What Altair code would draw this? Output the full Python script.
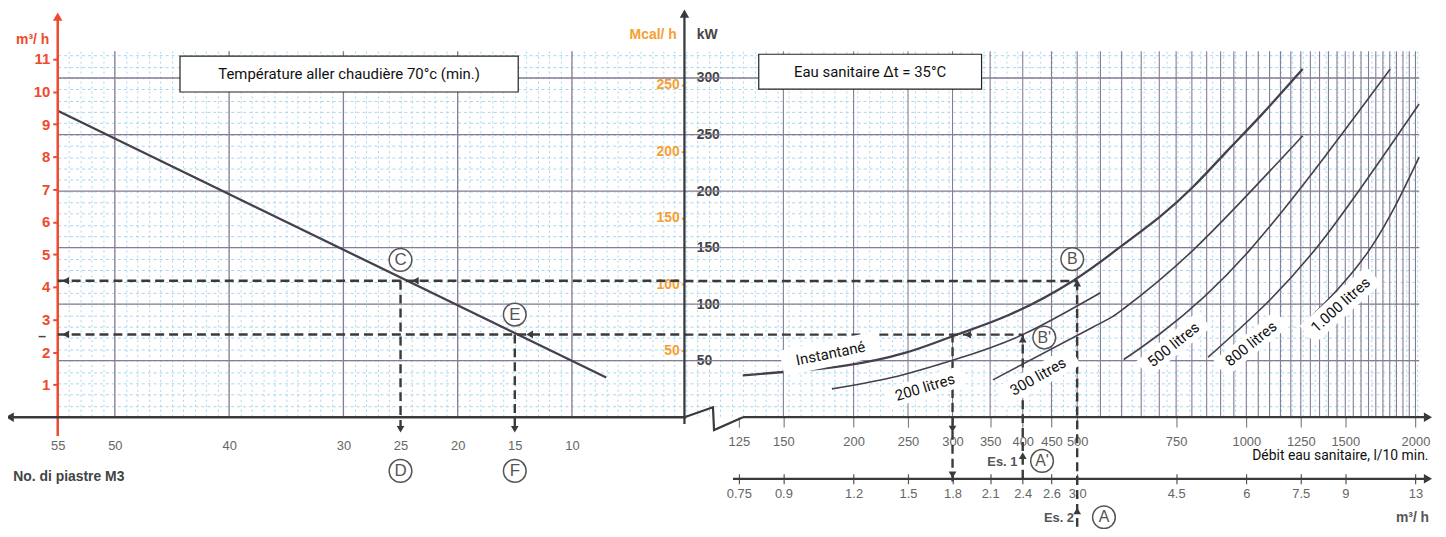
import altair as alt
import pandas as pd

# ---------------- data ----------------
# left panel: plates (No. di piastre M3) vs flow m3/h
piastre_x = [55, 7]
piastre_m3h = [9.41, 1.22]

# right panel: domestic water flow (l/10 min) vs power kW
inst_debit = [127, 150, 191, 250, 303, 376, 500, 597, 704, 805, 921, 1056, 1260]
inst_kw = [37, 40, 44, 56, 73, 88, 121, 151, 177, 203, 235, 265, 308]
l200_debit = [183, 234, 303, 400, 550]
l200_kw = [25, 35, 51, 73, 110]
l300_debit = [354, 535, 605, 805, 1260]
l300_kw = [33, 80, 96, 148, 249]
l500_debit = [605, 703, 1015, 1804]
l500_kw = [51, 74, 148, 308]
l800_debit = [855, 1057, 1384, 2030]
l800_kw = [53, 95, 160, 277]
l1000_debit = [1276, 1656, 2030]
l1000_kw = [84, 148, 230]

plates_ticks = [55, 50, 40, 30, 25, 20, 15, 10]
plates_grid = [50, 40, 30, 20, 10]
m3h_ticks_left = list(range(1, 12))
kw_ticks = [50, 100, 150, 200, 250, 300]
mcal_ticks = [50, 100, 150, 200, 250]
debit_ticks = [125, 150, 200, 250, 300, 350, 400, 450, 500, 750, 1000, 1250, 1500, 2000]
m3h_tick_labels = ["0.75", "0.9", "1.2", "1.5", "1.8", "2.1", "2.4", "2.6", "3.0", "4.5", "6", "7.5", "9", "13"]
debit_grid = list(range(150, 2001, 50))

# guide lines (reading example)
left_dash_x = [55, 55, 25, 15]
left_dash_x2 = [0, 0, 25, 15]
left_dash_y = [4.19, 2.54, 4.19, 2.54]
left_dash_y2 = [4.19, 2.54, -0.3, -0.3]
right_dash_x = [100, 100, 500, 400, 300]
right_dash_x2 = [500, 400, 500, 400, 300]
right_dash_y = [120.5, 73, -97, -54.5, -57]
right_dash_y2 = [120.5, 73, 120.5, 73, 73]

left_arrow_x = [54.3, 54.3, 23.7, 13.7, 25, 15]
left_arrow_y = [4.19, 2.54, 4.19, 2.54, -0.37, -0.37]
left_arrow_s = ["triangle-left"] * 4 + ["triangle-down"] * 2
right_arrow_x = [500, 400, 319, 300, 300, 400, 500]
right_arrow_y = [118.5, 69, 73, -10.5, -51, -34, -83]
right_arrow_s = ["triangle-up", "triangle-up", "triangle-left", "triangle-down", "triangle-down", "triangle-up", "triangle-up"]

left_circle_txt = ["C", "E", "D", "F"]
left_circle_x = [25, 15, 25, 15]
left_circle_y = [4.83, 3.15, -1.65, -1.65]
right_circle_txt = ["B", "B'", "A'", "A"]
right_circle_x = [490, 437, 433, 558]
right_circle_y = [139.8, 70.4, -38.7, -88.5]

curve_label_txt = ["Instantané", "200 litres", "300 litres", "500 litres", "800 litres", "1.000 litres"]
curve_label_x = [182, 268, 426, 742, 1019, 1471]
curve_label_y = [56.3, 26.4, 36, 64.2, 65, 99.4]
curve_label_ang = [348.5, 343, 330.5, 321, 321, 318]
curve_label_w = [100, 80, 86, 80, 80, 90]

# ---------------- scales / styles ----------------
W, H = 1369, 368
L_DOM = [55, -64.14]
R_DOM = [7.667, 2030]
KW_DOM = [0, 323.7]
M3_DOM = [0, 11.24]
MC_DOM = [0, 275.4]

RED = "#ee4a2c"
ORANGE = "#f5a030"
GRID = "#857e93"
BLUE = "#a6d6ef"
DARK = "#3a3a3a"
CURVE = "#463f4c"
AXF = "Liberation Sans"
TXF = "Roboto"


def XL(f, axis=None):
    return alt.X(f, type="quantitative", scale=alt.Scale(domain=L_DOM, nice=False, zero=False), axis=axis)


def XR(f, axis=None):
    return alt.X(f, type="quantitative", scale=alt.Scale(type="log", domain=R_DOM, nice=False), axis=axis)


def YKW(f, axis=None):
    return alt.Y(f, type="quantitative", scale=alt.Scale(domain=KW_DOM, nice=False, zero=False), axis=axis)


def YM3(f, axis=None):
    return alt.Y(f, type="quantitative", scale=alt.Scale(domain=M3_DOM, nice=False, zero=False), axis=axis)


def YMC(f, axis=None):
    return alt.Y(f, type="quantitative", scale=alt.Scale(domain=MC_DOM, nice=False, zero=False), axis=axis)


blank = pd.DataFrame({"a": [0.0], "b": [0.0]})

# minor blue grid
minor = alt.Chart(blank).mark_point(opacity=0).encode(
    x=XL("a", alt.Axis(values=list(range(-64, 56)), grid=True, gridColor=BLUE, gridDash=[2, 3],
                       gridWidth=1, labels=False, ticks=False, domain=False, title=None)),
    y=YKW("b", alt.Axis(values=list(range(10, 330, 10)), grid=True, gridColor=BLUE, gridDash=[3, 3],
                        gridWidth=1, labels=False, ticks=False, domain=False, title=None)),
)

hgrid = alt.Chart(pd.DataFrame({"kw": kw_ticks})).mark_rule(color=GRID, strokeWidth=1.3).encode(y=YKW("kw"))
vgridL = alt.Chart(pd.DataFrame({"p": plates_grid})).mark_rule(color=GRID, strokeWidth=1.3).encode(x=XL("p"))
vgridR = alt.Chart(pd.DataFrame({"d": debit_grid})).mark_rule(color=GRID, strokeWidth=1.1).encode(x=XR("d"))

# left panel line with its axes
piastre = alt.Chart(pd.DataFrame({"p": piastre_x, "m": piastre_m3h})).mark_line(
    color=CURVE, strokeWidth=2.3).encode(
    x=XL("p", alt.Axis(values=plates_ticks, orient="bottom", labelColor="#666", labelFont=AXF,
                       labelFontSize=13, ticks=False, domain=False, grid=False, labelPadding=23,
                       labelFlush=False, labelOverlap=False, title=None)),
    y=YM3("m", alt.Axis(values=m3h_ticks_left, orient="left", labelColor=RED, labelFont=AXF,
                        labelFontWeight="bold", labelFontSize=15, tickColor=RED, tickSize=5, tickWidth=2,
                        domain=False, grid=False, labelPadding=3, labelFlush=False,
                        title="m³/ h", titleColor=RED, titleFont=AXF, titleFontSize=14,
                        titleFontWeight="bold", titleAngle=0, titleX=-9, titleY=-12,
                        titleAlign="right", titleBaseline="middle")),
)

# right panel curves
inst = alt.Chart(pd.DataFrame({"d": inst_debit, "kw": inst_kw})).mark_line(
    color=CURVE, strokeWidth=2.3, interpolate="basis").encode(
    x=XR("d", alt.Axis(values=debit_ticks, orient="bottom", format="d", labelColor="#666", labelFont=AXF,
                       labelFontSize=13, tickColor=GRID, tickSize=10, tickWidth=1.2, labelPadding=8,
                       domain=False, grid=False, labelFlush=False, labelOverlap=False, title=None)),
    y=YKW("kw", alt.Axis(values=kw_ticks, orient="right", offset=-739, labelColor="#444", labelFont=AXF,
                         labelFontWeight="bold", labelFontSize=14, ticks=False, domain=False, grid=False,
                         labelPadding=12, labelFlush=False, title="kW", titleColor="#444", titleFont=AXF,
                         titleFontSize=14, titleFontWeight="bold", titleAngle=0, titleX=12, titleY=-17,
                         titleAlign="left", titleBaseline="middle")),
)

others = pd.concat([
    pd.DataFrame({"d": l200_debit, "kw": l200_kw, "c": "200"}),
    pd.DataFrame({"d": l300_debit, "kw": l300_kw, "c": "300"}),
    pd.DataFrame({"d": l500_debit, "kw": l500_kw, "c": "500"}),
    pd.DataFrame({"d": l800_debit, "kw": l800_kw, "c": "800"}),
    pd.DataFrame({"d": l1000_debit, "kw": l1000_kw, "c": "1000"}),
])
storage = alt.Chart(others).mark_line(color=CURVE, strokeWidth=1.6, interpolate="natural").encode(
    x=XR("d"), y=YKW("kw"), detail="c:N")

# Mcal/h axis
mcal = alt.Chart(blank).mark_point(opacity=0).encode(
    x=XL("a"),
    y=YMC("b", alt.Axis(values=mcal_ticks, orient="left", offset=-630, labelColor=ORANGE, labelFont=AXF,
                        labelFontWeight="bold", labelFontSize=14, tickColor=ORANGE, tickSize=3, tickWidth=2,
                        domain=False, grid=False, labelPadding=2, labelFlush=False,
                        title="Mcal/ h", titleColor=ORANGE, titleFont=AXF, titleFontSize=14,
                        titleFontWeight="bold", titleAngle=0, titleX=-8, titleY=-17,
                        titleAlign="right", titleBaseline="middle")),
)

# m3/h secondary bottom axis
expr = "[" + ",".join("'%s'" % s for s in m3h_tick_labels) + "][indexof([" + ",".join(
    str(v) for v in debit_ticks) + "], datum.value)]"
m3axis = alt.Chart(pd.DataFrame({"d": [200.0], "kw": [0.0]})).mark_point(opacity=0).encode(
    x=XR("d", alt.Axis(values=debit_ticks, orient="bottom", offset=57, labelExpr=expr, labelColor="#666",
                       labelFont=AXF, labelFontSize=13, tickColor="#555", tickSize=10, tickWidth=1.2,
                       labelPadding=4, domain=False, grid=False, labelFlush=False, labelOverlap=False,
                       title=None)),
    y=YKW("kw"),
)

# axis lines
red_line = alt.Chart(pd.DataFrame({"p": [55], "y": [-0.58], "y2": [12.25]})).mark_rule(
    color=RED, strokeWidth=2.5).encode(x=XL("p"), y=YM3("y"), y2="y2")
red_arrow = alt.Chart(pd.DataFrame({"p": [55], "y": [12.3]})).mark_point(
    shape="triangle-up", filled=True, color=RED, opacity=1, size=90).encode(x=XL("p"), y=YM3("y"))
left_axis = alt.Chart(pd.DataFrame({"p": [59], "p2": [0], "y": [0]})).mark_rule(
    color=DARK, strokeWidth=2.5).encode(x=XL("p"), x2="p2", y=YM3("y"))
left_axis_arrow = alt.Chart(pd.DataFrame({"p": [59.2], "y": [0]})).mark_point(
    shape="triangle-left", filled=True, color=DARK, opacity=1, size=90).encode(x=XL("p"), y=YM3("y"))

break_debit = [100, 112.4, 112.9, 127.1]
break_kw = [0, 8.8, -11.4, 0]
zigzag = alt.Chart(pd.DataFrame({"d": break_debit, "kw": break_kw})).mark_line(
    color=DARK, strokeWidth=2.2).encode(x=XR("d"), y=YKW("kw"))
right_lines = alt.Chart(pd.DataFrame({
    "d": [127.1, 122, 100], "d2": [2100, 2100, 100], "kw": [0, -54.5, -6], "kw2": [0, -54.5, 356]})).mark_rule(
    color=DARK, strokeWidth=2.3).encode(x=XR("d"), x2="d2", y=YKW("kw"), y2="kw2")
right_axis_arrows = alt.Chart(pd.DataFrame({
    "d": [2105, 2105, 100], "kw": [0, -54.5, 357], "s": ["triangle-right", "triangle-right", "triangle-up"]})).mark_point(
    filled=True, color=DARK, opacity=1, size=90).encode(x=XR("d"), y=YKW("kw"), shape=alt.Shape("s:N", scale=None))

# dashed guides
ldash = alt.Chart(pd.DataFrame({"x": left_dash_x, "x2": left_dash_x2, "y": left_dash_y, "y2": left_dash_y2})).mark_rule(
    color=DARK, strokeWidth=2.4, strokeDash=[9, 5]).encode(x=XL("x"), x2="x2", y=YM3("y"), y2="y2")
rdash = alt.Chart(pd.DataFrame({"x": right_dash_x, "x2": right_dash_x2, "y": right_dash_y, "y2": right_dash_y2})).mark_rule(
    color=DARK, strokeWidth=2.4, strokeDash=[9, 5]).encode(x=XR("x"), x2="x2", y=YKW("y"), y2="y2")
larrows = alt.Chart(pd.DataFrame({"x": left_arrow_x, "y": left_arrow_y, "s": left_arrow_s})).mark_point(
    filled=True, color=DARK, opacity=1, size=60).encode(x=XL("x"), y=YM3("y"), shape=alt.Shape("s:N", scale=None))
rarrows = alt.Chart(pd.DataFrame({"x": right_arrow_x, "y": right_arrow_y, "s": right_arrow_s})).mark_point(
    filled=True, color=DARK, opacity=1, size=60).encode(x=XR("x"), y=YKW("y"), shape=alt.Shape("s:N", scale=None))

# curve labels with white background
lab_df = pd.DataFrame({"t": curve_label_txt, "d": curve_label_x, "kw": curve_label_y,
                       "ang": curve_label_ang, "sz": [w * w for w in curve_label_w]})
lab_bg = alt.Chart(lab_df).mark_point(shape="M-1,-0.26H1V0.26H-1Z", filled=True, color="white", opacity=1).encode(
    x=XR("d"), y=YKW("kw"), angle=alt.Angle("ang:Q", scale=None), size=alt.Size("sz:Q", scale=None))
lab_txt = alt.Chart(lab_df).mark_text(font=TXF, fontSize=15, color="#111").encode(
    x=XR("d"), y=YKW("kw"), text="t:N", angle=alt.Angle("ang:Q", scale=None))

# title boxes
box1 = alt.Chart(pd.DataFrame({"x": [44.3], "x2": [14.7], "y": [319.3], "y2": [287.6]})).mark_rect(
    fill="white", stroke="#222", strokeWidth=1.2).encode(x=XL("x"), x2="x2", y=YKW("y"), y2="y2")
box1_t = alt.Chart(pd.DataFrame({"x": [29.5], "y": [303.4], "t": ["Température aller chaudière 70°c (min.)"]})).mark_text(
    font=TXF, fontSize=15, color="#111").encode(x=XL("x"), y=YKW("y"), text="t:N")
box2 = alt.Chart(pd.DataFrame({"x": [135.6], "x2": [337.9], "y": [321], "y2": [290.2]})).mark_rect(
    fill="white", stroke="#222", strokeWidth=1.2).encode(x=XR("x"), x2="x2", y=YKW("y"), y2="y2")
box2_t = alt.Chart(pd.DataFrame({"x": [214], "y": [305.6], "t": ["Eau sanitaire Δt = 35°C"]})).mark_text(
    font=TXF, fontSize=15, color="#111").encode(x=XR("x"), y=YKW("y"), text="t:N")

# circled letters
lc = pd.DataFrame({"x": left_circle_x, "y": left_circle_y, "t": left_circle_txt})
rc = pd.DataFrame({"x": right_circle_x, "y": right_circle_y, "t": right_circle_txt})
lcirc = alt.Chart(lc).mark_point(shape="circle", filled=True, fill="white", stroke="#555", strokeWidth=1.5,
                                 opacity=1, size=520).encode(x=XL("x"), y=YM3("y"))
lcirc_t = alt.Chart(lc).mark_text(font=AXF, fontSize=17, color="#555").encode(x=XL("x"), y=YM3("y"), text="t:N")
rcirc = alt.Chart(rc).mark_point(shape="circle", filled=True, fill="white", stroke="#555", strokeWidth=1.5,
                                 opacity=1, size=520).encode(x=XR("x"), y=YKW("y"))
rcirc_t = alt.Chart(rc).mark_text(font=AXF, fontSize=16, color="#555").encode(x=XR("x"), y=YKW("y"), text="t:N")

# other texts
piastre_title = alt.Chart(pd.DataFrame({"x": [58.9, 56.7], "y": [-1.83, 2.47], "t": ["No. di piastre M3", "–"]})).mark_text(
    font=AXF, fontSize=14, fontWeight="bold", color="#444", align="left").encode(x=XL("x"), y=YM3("y"), text="t:N")
es_txt = alt.Chart(pd.DataFrame({"x": [368, 464], "y": [-39.6, -89.5], "t": ["Es. 1", "Es. 2"]})).mark_text(
    font=AXF, fontSize=13, fontWeight="bold", color="#555").encode(x=XR("x"), y=YKW("y"), text="t:N")
debit_title = alt.Chart(pd.DataFrame({"x": [2110], "y": [-34.3], "t": ["Débit eau sanitaire, l/10 min."]})).mark_text(
    font=TXF, fontSize=14, color="#111", align="right").encode(x=XR("x"), y=YKW("y"), text="t:N")
m3_title = alt.Chart(pd.DataFrame({"x": [2115], "y": [-89.5], "t": ["m³/ h"]})).mark_text(
    font=AXF, fontSize=14, fontWeight="bold", color="#555", align="right").encode(x=XR("x"), y=YKW("y"), text="t:N")

chart = alt.layer(
    minor, hgrid, vgridL, vgridR,
    piastre, inst, storage, mcal, m3axis,
    red_line, red_arrow, left_axis, left_axis_arrow, zigzag, right_lines, right_axis_arrows,
    ldash, rdash, larrows, rarrows,
    lab_bg, lab_txt, box1, box1_t, box2, box2_t,
    lcirc, lcirc_t, rcirc, rcirc_t,
    piastre_title, es_txt, debit_title, m3_title,
).resolve_scale(x="independent", y="independent").resolve_axis(x="independent", y="independent").properties(
    width=W, height=H,
    autosize=alt.AutoSizeParams(type="none"),
    padding={"left": 50, "top": 42, "right": 19, "bottom": 111},
    background="white",
).configure_view(stroke=None)

chart.save("out.html", embed_options={"renderer": "svg", "actions": False})
